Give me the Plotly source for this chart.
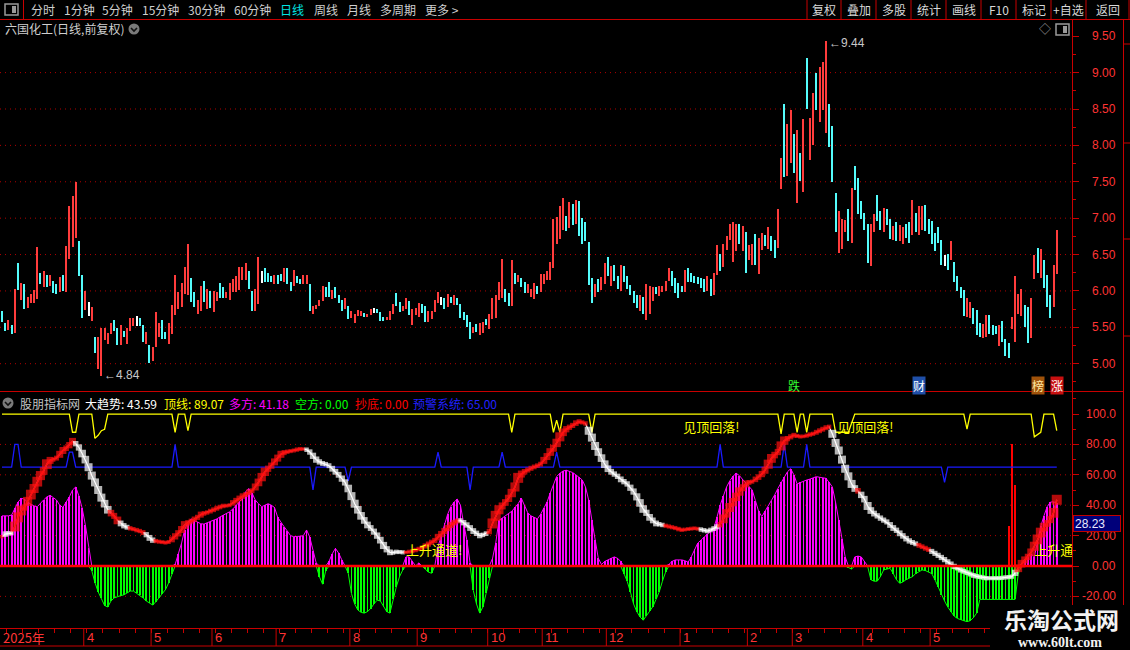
import plotly.graph_objects as go

W, H = 1130, 650
CJK = "Noto Sans CJK SC, sans-serif"
NUM = "Liberation Sans, Arial, sans-serif"

# ---------------- data ----------------
# daily bars (index = trading day), price in yuan
high = [
    5.73, 5.56, 5.61, 5.54, 6.04, 6.39, 6.12, 6.10, 5.93, 5.96,
    6.02, 6.61, 6.25, 6.28, 6.22, 6.23, 6.14, 6.10, 6.20, 6.23,
    6.63, 7.17, 7.31, 7.50, 6.69, 6.22, 6.01, 5.86, 5.79, 5.38,
    5.38, 5.50, 5.50, 5.43, 5.57, 5.61, 5.50, 5.54, 5.46, 5.50,
    5.64, 5.63, 5.66, 5.63, 5.54, 5.44, 5.26, 5.23, 5.72, 5.57,
    5.61, 5.44, 5.57, 5.82, 6.23, 5.99, 6.12, 6.34, 6.65, 6.19,
    5.99, 5.88, 6.07, 6.14, 6.04, 6.01, 6.01, 5.99, 6.12, 6.06,
    5.99, 6.12, 6.17, 6.21, 6.34, 6.33, 6.39, 6.28, 6.01, 6.04,
    6.47, 6.28, 6.32, 6.26, 6.21, 6.23, 6.22, 6.24, 6.32, 6.32,
    6.13, 6.29, 6.21, 6.17, 6.22, 6.22, 6.10, 5.80, 5.81, 5.88,
    6.07, 6.06, 6.13, 6.02, 6.06, 5.95, 5.88, 5.91, 5.80, 5.73,
    5.69, 5.74, 5.73, 5.70, 5.69, 5.76, 5.77, 5.76, 5.72, 5.65,
    5.65, 5.73, 5.83, 5.98, 5.85, 5.80, 5.91, 5.87, 5.76, 5.77,
    5.84, 5.83, 5.80, 5.73, 5.73, 5.88, 5.99, 5.92, 5.91, 5.96,
    5.92, 5.95, 5.91, 5.83, 5.72, 5.68, 5.58, 5.51, 5.55, 5.56,
    5.58, 5.62, 5.69, 5.91, 5.95, 6.13, 6.44, 6.03, 5.98, 6.43,
    6.25, 6.22, 6.18, 6.13, 6.10, 6.03, 6.11, 6.07, 6.24, 6.24,
    6.28, 6.40, 6.99, 7.02, 7.17, 7.28, 7.03, 7.23, 7.20, 7.25,
    7.24, 7.01, 6.96, 6.68, 6.18, 6.10, 6.17, 6.20, 6.39, 6.47,
    6.35, 6.36, 6.21, 6.37, 6.35, 6.21, 6.09, 6.00, 5.95, 5.95,
    5.92, 6.10, 6.07, 6.06, 6.06, 6.08, 6.08, 6.14, 6.32, 6.28,
    6.19, 6.11, 6.08, 6.30, 6.32, 6.26, 6.21, 6.20, 6.19, 6.17,
    6.21, 6.17, 6.25, 6.64, 6.52, 6.65, 6.76, 6.93, 6.95, 6.93,
    6.92, 6.90, 6.81, 6.64, 6.65, 6.79, 6.74, 6.80, 6.78, 6.88,
    6.76, 6.70, 7.13, 7.84, 8.58, 8.30, 8.50, 8.16, 8.22, 7.90,
    8.37, 9.21, 8.39, 8.73, 9.00, 9.09, 9.15, 9.44, 8.58, 8.28,
    7.35, 7.11, 7.00, 6.98, 7.13, 7.42, 7.72, 7.56, 7.24, 7.08,
    6.92, 6.93, 7.07, 7.32, 7.10, 7.15, 7.13, 7.00, 6.90, 6.95,
    6.91, 6.88, 6.93, 6.95, 7.26, 7.08, 7.18, 7.17, 7.19, 7.00,
    6.97, 6.80, 6.89, 6.70, 6.50, 6.52, 6.69, 6.40, 6.21, 6.06,
    6.02, 5.91, 5.86, 5.77, 5.74, 5.57, 5.55, 5.68, 5.68, 5.54,
    5.52, 5.54, 5.59, 5.34, 5.29, 5.65, 6.21, 5.96, 6.03, 5.81,
    5.79, 5.91, 6.50, 6.60, 6.58, 6.43, 6.23, 5.95, 6.37, 6.85,
]
low = [
    5.58, 5.46, 5.47, 5.42, 5.43, 6.02, 5.88, 5.76, 5.77, 5.84,
    5.84, 5.89, 6.10, 6.06, 6.06, 6.08, 5.98, 5.96, 5.99, 6.01,
    5.99, 6.45, 6.61, 6.73, 6.21, 5.63, 5.75, 5.66, 5.59, 5.16,
    4.93, 4.84, 5.33, 5.28, 5.41, 5.46, 5.26, 5.26, 5.37, 5.28,
    5.46, 5.53, 5.53, 5.53, 5.30, 5.28, 5.02, 5.05, 5.23, 5.37,
    5.35, 5.34, 5.28, 5.41, 5.68, 5.76, 5.79, 5.96, 5.95, 5.86,
    5.78, 5.69, 5.73, 5.85, 5.76, 5.77, 5.72, 5.87, 5.91, 5.91,
    5.91, 5.88, 5.99, 5.99, 6.02, 6.16, 6.16, 6.03, 5.73, 5.73,
    5.83, 6.11, 6.13, 6.13, 6.13, 6.10, 6.10, 6.14, 6.13, 6.10,
    6.00, 6.07, 6.11, 6.10, 6.10, 6.10, 5.73, 5.69, 5.76, 5.80,
    5.87, 5.92, 5.93, 5.89, 5.91, 5.84, 5.73, 5.76, 5.62, 5.63,
    5.56, 5.66, 5.66, 5.65, 5.65, 5.67, 5.70, 5.70, 5.59, 5.59,
    5.61, 5.61, 5.69, 5.80, 5.72, 5.73, 5.76, 5.67, 5.54, 5.67,
    5.65, 5.70, 5.58, 5.58, 5.62, 5.72, 5.84, 5.81, 5.76, 5.78,
    5.84, 5.82, 5.82, 5.63, 5.61, 5.51, 5.35, 5.43, 5.44, 5.40,
    5.43, 5.54, 5.48, 5.62, 5.63, 5.88, 5.91, 5.85, 5.80, 5.80,
    6.10, 6.13, 6.06, 5.98, 5.98, 5.93, 5.89, 5.96, 5.99, 6.10,
    6.16, 6.16, 6.32, 6.65, 6.72, 6.85, 6.83, 6.87, 6.91, 6.92,
    6.76, 6.65, 6.69, 6.09, 5.84, 5.92, 5.99, 6.02, 6.10, 6.21,
    6.07, 6.15, 6.03, 6.00, 6.13, 6.03, 5.95, 5.84, 5.77, 5.73,
    5.69, 5.61, 5.69, 5.87, 5.96, 5.94, 5.99, 6.00, 6.14, 6.08,
    5.98, 5.91, 5.99, 5.99, 6.13, 6.13, 6.11, 6.10, 6.05, 5.99,
    6.01, 5.94, 5.95, 6.23, 6.28, 6.33, 6.57, 6.70, 6.41, 6.56,
    6.65, 6.55, 6.26, 6.43, 6.36, 6.36, 6.24, 6.57, 6.62, 6.58,
    6.55, 6.46, 6.60, 7.41, 7.57, 7.59, 7.77, 7.63, 7.21, 7.52,
    7.36, 8.51, 7.80, 8.01, 8.50, 8.33, 8.50, 8.18, 7.99, 7.51,
    6.81, 6.53, 6.59, 6.81, 6.69, 6.67, 7.40, 7.06, 7.00, 6.85,
    6.39, 6.35, 6.81, 6.97, 6.84, 6.81, 6.91, 6.72, 6.70, 6.69,
    6.69, 6.65, 6.73, 6.66, 6.78, 6.81, 6.78, 6.84, 6.83, 6.79,
    6.65, 6.56, 6.67, 6.36, 6.35, 6.30, 6.43, 6.13, 6.00, 5.91,
    5.66, 5.65, 5.63, 5.55, 5.40, 5.37, 5.36, 5.37, 5.41, 5.40,
    5.41, 5.25, 5.30, 5.11, 5.09, 5.49, 5.31, 5.69, 5.66, 5.51,
    5.29, 5.36, 6.17, 6.26, 6.19, 6.05, 5.78, 5.63, 5.78, 6.24,
]
# u = closed up (red), d = closed down (cyan), e = unchanged (white)
bar_dir = (
    "ddudududuu" "uudududdud" "uuuuddueud" "uuuuuddudu" "uuedduduuu"
    "dduuuuuuud" "duududuudd" "uuuuuuuddu" "ueddduddud" "dudduuduuu"
    "uddudddudu" "uuuduueddd" "uuudduuduu" "udduuuuedu" "dudddddudu"
    "uduuuuuddu" "dudduuuduu" "uuuuuududu" "ddddduduud" "uddudddddu"
    "duuuduuuud" "dddudddddd" "uduuduuuuu" "duduuduudu" "dduuduudud"
    "uduuduuudd" "duuududddd" "duudduddud" "uudduduudd" "ddddeduddd"
    "duuddduudd" "duddduuuud" "duududdduu"
)

# 大趋势 line
trend = [
    19.3, 21, 21.5, 21.5, 26, 32, 36.5, 38.5, 42.5, 47,
    51, 55.5, 59.5, 62.5, 67, 69.5, 70, 71, 73.5, 76,
    77.5, 79.5, 82, 80.5, 78, 74, 70, 65, 59.5, 55,
    50, 45, 41, 37, 34.8, 33, 30, 28, 26.5, 25.5,
    24.8, 24.3, 23.6, 23, 22, 20.6, 18.5, 17, 16.4, 16,
    15.7, 15.4, 15.8, 17.5, 19.5, 21.5, 24, 27, 28.4, 29.5,
    30.8, 32, 33.8, 34.6, 35.2, 36.1, 37, 38, 38.8, 39.5,
    39.7, 40, 41.5, 43, 44.5, 46, 47, 48.5, 49.5, 52,
    55, 58.5, 62, 64, 66, 68.5, 71, 73.5, 74.6, 75.2,
    75.6, 76, 76.6, 77, 77, 76.5, 75, 72.5, 70, 68.5,
    67.5, 67, 66, 64, 62, 60, 57.5, 55, 51, 46,
    41, 37, 33, 30, 27, 25, 22.6, 20, 17, 13.5,
    11, 9, 8.8, 9.3, 9.2, 9, 9, 9.4, 9.8, 10.5,
    11.2, 12, 13.2, 14.4, 15.6, 16.8, 19, 21, 23, 25,
    27, 28.5, 29.6, 30, 28.5, 27, 25, 23, 21.5, 20,
    20.5, 21.3, 22.6, 28, 33, 37, 39.5, 41.8, 44.5, 48,
    52, 58, 60.5, 62, 63.2, 64.3, 65.2, 66, 67, 69.5,
    72, 75, 77.5, 81, 85, 88, 90, 91.3, 92.5, 94,
    95, 94.5, 93.8, 89, 84.5, 79, 75, 71, 67, 64,
    62, 60.5, 59, 57, 55.5, 54, 51.5, 49, 45.5, 41.5,
    37.5, 35, 32, 30, 28, 27.5, 27, 26.5, 26, 25.5,
    25, 24.3, 23.8, 24, 24.3, 24.6, 24.8, 24.5, 24, 23.5,
    23, 23.7, 24.6, 25.8, 27.2, 31, 34.6, 38.5, 42, 45.5,
    49, 51.5, 54, 55, 55.5, 57, 58.5, 60.5, 63, 67,
    70.8, 73, 75, 79, 82.5, 83.8, 85, 86, 85.6, 85.2,
    85.3, 85.8, 86.5, 87, 88, 89, 90, 91, 91.6, 87,
    81, 76, 70, 64, 59, 54, 51, 49.5, 46.8, 44,
    39.5, 36.5, 34.5, 33, 31.5, 30.2, 29, 27, 25, 23.5,
    21.5, 19.8, 18, 16.5, 15.5, 14.6, 13.6, 12.7, 11.7, 10.8,
    9.6, 8.3, 7, 5.6, 4.2, 2.7, 1.2, -0.3, -1.3, -2.6,
    -3.5, -4.4, -5.3, -6.2, -6.8, -7.2, -7.6, -8, -8, -8,
    -8, -8, -7.8, -7.5, -7.3, -7, -4.5, -1.5, 1.5, 4,
    6, 9, 13, 17.5, 22, 25.6, 28, 30.5, 35, 43.59,
]
# bar ranges where the trend line is painted red
trend_red_spans = [(0, 0), (4, 22), (34, 36), (40, 44), (48, 94), (126, 142),
                   (152, 182), (207, 217), (224, 258), (267, 267), (286, 289), (317, 329)]

# 多方 (>0) / 空方 (<0) histogram
osc = [
    33, 33, 33, 33.5, 38, 42, 44.5, 44, 42, 40.5,
    39.5, 39, 41.5, 43.5, 45.5, 46.5, 45, 43.4, 40, 38.5,
    42, 45.5, 50, 52, 46, 38, 27, 12, -3, -11,
    -17, -21, -26, -27, -23, -21, -20, -19.5, -19, -18,
    -16.5, -16.5, -18, -19, -21, -23, -24.5, -25.7, -23.5, -21,
    -18.5, -15.5, -11, -5, 1, 8, 15, 24, 29, 31,
    30, 28.7, 27.8, 27.6, 28.4, 29, 30, 31, 32.3, 33.5,
    34.6, 35.7, 37.5, 40, 42, 44.5, 49, 51, 48, 43.4,
    41, 39, 40, 41, 40, 38.5, 32, 28.5, 25.8, 23,
    20, 19.3, 19.3, 19.6, 20, 23.7, 19, 10, 2, -7,
    -12, -3, 3, 8, 11.6, 8.5, 4, 0, -4.8, -18,
    -25, -29, -30.5, -31, -30, -28, -25, -22.5, -23, -27,
    -30, -31, -22, -13.6, -7, -2.6, 6, 6, 3, 0,
    2, 0, -2, -4, -4.8, 0, 12.7, 20, 28, 34,
    39, 42, 44, 40, 28, 17, 2, -16, -25, -31,
    -27, -18, -8, 5, 15, 30, 31.5, 32.5, 34, 36,
    38.5, 41, 44.5, 40, 35, 33, 32, 31, 34, 38,
    42, 48, 53, 58.8, 61, 62.5, 63, 62.5, 61.5, 60,
    58.5, 56.6, 52, 43.4, 30, 17, 5, 1, 3, 4,
    5, 6, 5, 3, -5, -10, -17, -25, -30, -33.5,
    -35.7, -33, -29.5, -26.8, -22, -17, -10, -4, 1, 3,
    4, 4, 4, 3.5, 2.5, 6, 11, 15, 17, 19,
    21, 23, 24.8, 32, 40, 46, 52, 56, 59, 61,
    59.5, 57, 54.5, 52, 50, 43, 36, 32.5, 36, 39,
    43, 46.7, 51, 55, 58.5, 62, 64, 60, 54, 55,
    56, 56.6, 57.2, 58, 58.8, 58.4, 58, 57.7, 55, 52,
    42, 30, 18, 6, -1, -2, 6, 6.5, 6, 3,
    0, -9, -10, -10, -7, -2.6, -2, -1.5, -5, -9,
    -11.4, -10.5, -9, -8, -7, -5, -3.5, -2.6, -3, -4,
    -5, -9, -14, -19, -23, -27, -30, -33, -34.5, -35.5,
    -36, -36.6, -36, -34, -31, -22, -22, -22, -22, -22,
    -22, -22, -22, -22, -22, -22, -22, -5, 1, 4,
    7, 8, 6, 16, 26, 33, 39, 42, 42.3, 41.18,
]

# 顶线 (yellow) break points
top_x = [0, 21, 22, 23, 24, 28, 29, 30, 31, 32, 33, 53, 54, 55, 57, 58, 59,
         158, 159, 160, 171, 172, 173, 174, 175, 183, 184, 185, 242, 243, 244,
         247, 248, 249, 250, 251, 252, 259, 260, 264, 266, 300, 301, 302,
         321, 322, 324, 325, 328, 329]
top_y = [100, 100, 88, 88, 100, 100, 84, 86, 89, 90, 100, 100, 88, 100, 100, 89, 100,
         100, 88, 100, 100, 88, 96, 88, 100, 100, 88, 100, 100, 87, 100,
         100, 88, 100, 100, 88, 100, 100, 88, 88, 100, 100, 90, 100,
         100, 85, 88, 100, 100, 89.07]

# 预警系统 (blue) break points
warn_x = [0, 3, 4, 5, 6, 20, 21, 22, 23, 53, 54, 55, 96, 97, 98, 107, 108, 109,
          135, 136, 137, 145, 146, 147, 155, 156, 157, 172, 173, 174, 223, 224, 225,
          243, 244, 245, 250, 251, 252, 293, 294, 295, 329]
warn_y = [65, 65, 80, 80, 65, 65, 75, 75, 65, 65, 80, 65, 65, 50, 65, 65, 56, 65,
          65, 75, 65, 65, 50, 65, 65, 75, 65, 65, 75, 65, 65, 80, 65,
          65, 80, 65, 65, 80, 65, 65, 55, 65, 65]

# 抄底 spike
bottom_x = [314, 315, 316]
bottom_y = [26, 80, 53]

# signal captions: (bar, value, text)
signal_text = [(126, 9.2, "上升通道!"), (322, 9.2, "上升通道!"),
               (212.5, 90, "见顶回落!"), (260.5, 90, "见顶回落!")]

# date axis
month_start = [0, 26, 47, 66, 86, 109, 130, 152, 169, 189, 212, 233, 247, 269, 290]
month_label = ["2025年", "4", "5", "6", "7", "8", "9", "10", "11", "12", "1", "2", "3", "4", "5"]

price_ticks = [5.0, 5.5, 6.0, 6.5, 7.0, 7.5, 8.0, 8.5, 9.0, 9.5]
ind_ticks = [-20, 0, 20, 40, 60, 80, 100]

# event tags at the bottom of the price panel: (bar, text, font colour, background)
events = [(247, "跌", "#33ff33", "rgba(0,0,0,0)"), (286, "财", "#ffffff", "#1f4fa8"),
          (323, "榜", "#ffe9a0", "#a0520a"), (329, "涨", "#ffffff", "#c81010")]

# ---------------- figure ----------------
N = len(high)
bars = list(range(N))
XR = [-0.624, 333.75]
XD = [0, 1072 / W]
RED = "#c80000"
TICKRED = "#ff3434"

fig = go.Figure()

cmap = {"u": "#ff3c3c", "d": "#54fcfc", "e": "#ffffff"}
fig.add_trace(go.Bar(
    x=bars, y=[h - l for h, l in zip(high, low)], base=low, width=0.33,
    marker=dict(color=[cmap[c] for c in bar_dir], line=dict(width=0)),
    xaxis="x", yaxis="y", hoverinfo="skip"))

pos = [v if v > 0 else 0 for v in osc]
neg = [v if v < 0 else 0 for v in osc]
fig.add_trace(go.Bar(x=bars, y=pos, width=0.26, marker=dict(color="#ff00ff", line=dict(width=0)),
                     xaxis="x2", yaxis="y2", hoverinfo="skip"))
fig.add_trace(go.Bar(x=bars, y=neg, width=0.26, marker=dict(color="#00ff00", line=dict(width=0)),
                     xaxis="x2", yaxis="y2", hoverinfo="skip"))
fig.add_trace(go.Scatter(x=bars, y=pos, mode="lines", line=dict(color="#ff00ff", width=1),
                         xaxis="x2", yaxis="y2", hoverinfo="skip"))
fig.add_trace(go.Scatter(x=bars, y=neg, mode="lines", line=dict(color="#00ff00", width=1),
                         xaxis="x2", yaxis="y2", hoverinfo="skip"))

fig.add_trace(go.Bar(x=bottom_x, y=bottom_y, width=0.7, marker=dict(color="#ff0000", line=dict(width=0)),
                     xaxis="x2", yaxis="y2", hoverinfo="skip"))

fig.add_trace(go.Scatter(x=top_x, y=top_y, mode="lines", line=dict(color="#ffff00", width=1.3),
                         xaxis="x2", yaxis="y2", hoverinfo="skip"))
fig.add_trace(go.Scatter(x=warn_x, y=warn_y, mode="lines", line=dict(color="#1a1aff", width=1.3),
                         xaxis="x2", yaxis="y2", hoverinfo="skip"))

# trend line: thin line plus square blocks, red on rising spans, white elsewhere
is_red = [False] * N
for a, b in trend_red_spans:
    for i in range(a, b + 1):
        is_red[i] = True
red_line = [trend[i] if is_red[i] or (i + 1 < N and is_red[i + 1]) else None for i in bars]
fig.add_trace(go.Scatter(x=bars, y=trend, mode="lines", line=dict(color="#ffffff", width=1.2),
                         xaxis="x2", yaxis="y2", hoverinfo="skip"))
fig.add_trace(go.Scatter(x=bars, y=red_line, mode="lines", line=dict(color="#ff1010", width=1.6),
                         xaxis="x2", yaxis="y2", hoverinfo="skip"))
sizes, cols = [], []
for i in bars:
    d = abs(trend[i] - trend[i - 1]) if i else 0
    if is_red[i]:
        sizes.append(min(3.5 + 1.4 * d, 10))
        cols.append("#ff1010")
    else:
        sizes.append(min(4 + 0.9 * d, 8))
        cols.append("#ffffff")
fig.add_trace(go.Scatter(x=bars, y=trend, mode="markers",
                         marker=dict(symbol="square", size=sizes, color=cols, line=dict(width=0)),
                         xaxis="x2", yaxis="y2", hoverinfo="skip"))

for bx, by, s in signal_text:
    fig.add_trace(go.Scatter(x=[bx], y=[by], mode="text", text=[s], textposition="middle right",
                             textfont=dict(color="#ffff00", size=13, family=CJK), cliponaxis=True,
                             xaxis="x2", yaxis="y2", hoverinfo="skip"))

# ---------------- decorations ----------------
shapes, ann = [], []


def px_line(x0, y0, x1, y1, color=RED, width=1, dash=None):
    shapes.append(dict(type="line", xref="paper", yref="paper", x0=x0 / W, y0=1 - y0 / H,
                       x1=x1 / W, y1=1 - y1 / H, line=dict(color=color, width=width, dash=dash)))


def px_rect(x0, y0, x1, y1, fill=None, line_color=None, width=1):
    shapes.append(dict(type="rect", xref="paper", yref="paper", x0=x0 / W, y0=1 - y0 / H,
                       x1=x1 / W, y1=1 - y1 / H, fillcolor=fill,
                       line=dict(color=line_color or "rgba(0,0,0,0)", width=width if line_color else 0)))


def px_text(x, y, s, color, size=12, anchor="left", family=CJK, **kw):
    ann.append(dict(xref="paper", yref="paper", x=x / W, y=1 - y / H, text=s, showarrow=False,
                    xanchor=anchor, yanchor="middle", font=dict(color=color, size=size, family=family), **kw))


def toggle_icon(x, y):
    px_rect(x, y, x + 13, y + 11, line_color="#9a9a9a", width=1.5)
    px_rect(x + 7, y + 2, x + 11, y + 9, fill="#9a9a9a")


def chevron_icon(cx, cy):
    shapes.append(dict(type="circle", xref="paper", yref="paper", x0=(cx - 5.5) / W, x1=(cx + 5.5) / W,
                       y0=1 - (cy + 5.5) / H, y1=1 - (cy - 5.5) / H, fillcolor="#7a7a7a", line=dict(width=0)))
    pts = [(cx - 3, cy - 1), (cx, cy + 2), (cx + 3, cy - 1)]
    path = "M " + " L ".join(f"{px / W:.5f},{1 - py / H:.5f}" for px, py in pts)
    shapes.append(dict(type="path", xref="paper", yref="paper", path=path,
                       line=dict(color="#111111", width=1.6)))


# toolbar
px_line(0, 19.5, W, 19.5)
px_line(23.5, 0, 23.5, 19.5)
toggle_icon(5, 4)
for x, s in zip([29, 62, 100, 140, 186, 232, 278, 312, 345, 378, 423],
                ["分时", "1分钟", "5分钟", "15分钟", "30分钟", "60分钟", "日线", "周线", "月线", "多周期", "更多 >"]):
    px_text(x, 10, s, "#00e4e4" if s == "日线" else "#cfcfcf", size=12)
seps = [807, 841, 876, 911, 946, 981, 1016, 1051, 1086, 1129]
for x in seps:
    px_line(x, 0, x, 19.5)
for i, s in enumerate(["复权", "叠加", "多股", "统计", "画线", "F10", "标记", "+自选", "返回"]):
    px_text((seps[i] + seps[i + 1]) / 2, 10, s, "#d8d8d8", size=12, anchor="center")

# price panel title and icons
px_text(3, 29, "六国化工(日线,前复权)", "#cfcfcf", size=12)
chevron_icon(134, 29)
px_text(1045, 29, "◇", "#9a9a9a", size=12, anchor="center")
toggle_icon(1056, 24)

# panel frames
px_line(0, 391.5, 1123, 391.5)
px_line(1123.5, 19.5, 1123.5, 605)
for y in [44, 143, 239, 336]:
    px_line(1123.5, y, W, y)
px_line(0, 646, 990, 646)

# dotted grid
for p in price_ticks[:-1]:
    shapes.append(dict(type="line", xref="paper", yref="y", x0=0, x1=XD[1], y0=p, y1=p, layer="below",
                       line=dict(color="#b00000", width=1, dash="1px,4px")))
for v in [80, 60, 40, 20, -20]:
    shapes.append(dict(type="line", xref="paper", yref="y2", x0=0, x1=XD[1], y0=v, y1=v, layer="below",
                       line=dict(color="#b00000", width=1, dash="1px,4px")))
shapes.append(dict(type="line", xref="paper", yref="y2", x0=0, x1=XD[1], y0=0, y1=0,
                   line=dict(color="#ff0000", width=2.5)))

# right axis labels (right aligned like the terminal)
for p in price_ticks:
    ann.append(dict(xref="paper", yref="y", x=1118 / W, y=p, text=f"{p:.2f}", showarrow=False,
                    xanchor="right", yanchor="middle", font=dict(color=TICKRED, size=12, family=NUM)))
for v in ind_ticks:
    t = "100.0" if v == 100 else f"{v:.2f}"
    ann.append(dict(xref="paper", yref="y2", x=1118 / W, y=v, text=t, showarrow=False,
                    xanchor="right", yanchor="middle", font=dict(color=TICKRED, size=12, family=NUM)))
ann.append(dict(xref="paper", yref="y2", x=1073 / W, y=28.23, text="28.23", showarrow=False,
                xanchor="left", yanchor="middle", align="left", width=44, height=13,
                bgcolor="#00007a", bordercolor="#c00000", borderwidth=1, borderpad=1,
                font=dict(color="#e8e8ff", size=12, family=NUM)))

# high / low marks
ann.append(dict(xref="x", yref="y", x=31, y=4.84, text="←4.84", showarrow=False, xanchor="left",
                yanchor="middle", xshift=1, font=dict(color="#c8c8c8", size=12, family=NUM)))
ann.append(dict(xref="x", yref="y", x=257, y=9.44, text="←9.44", showarrow=False, xanchor="left",
                yanchor="middle", xshift=1, yshift=-2, font=dict(color="#c8c8c8", size=12, family=NUM)))

for bx, s, fc, bg in events:
    ann.append(dict(xref="x", yref="paper", x=bx, y=1 - 385 / H, text=s, showarrow=False,
                    xanchor="center", yanchor="middle", bgcolor=bg, borderpad=0,
                    font=dict(color=fc, size=12, family=CJK)))

# indicator legend row
chevron_icon(8, 403)
legend_row = [
    (18, "股朋指标网", "#c4c4c4"),
    (83, f"大趋势: {trend[-1]:.2f}", "#ffffff"),
    (162, f"顶线: {top_y[-1]:.2f}", "#ffff00"),
    (227, f"多方: {pos[-1]:.2f}", "#ff00ff"),
    (293, f"空方: {abs(neg[-1]):.2f}", "#00ff00"),
    (353, "抄底: 0.00", "#ff0000"),
    (411, f"预警系统: {warn_y[-1]:.2f}", "#2020ff"),
]
for x, s, c in legend_row:
    px_text(x, 403, s, c, size=12)

# date axis: month separators and labels
for i, (m, lab) in enumerate(zip(month_start, month_label)):
    xm = m - 0.5 if i else XR[0]
    if i:
        shapes.append(dict(type="line", xref="x", yref="paper", x0=xm, x1=xm, y0=1 - 646 / H, y1=1 - 628 / H,
                           line=dict(color=RED, width=1)))
    ann.append(dict(xref="x", yref="paper", x=xm, y=1 - 637.5 / H, text=lab, showarrow=False,
                    xanchor="left", yanchor="middle", xshift=1,
                    font=dict(color=TICKRED, size=13, family=NUM if i else CJK)))

# watermark
px_rect(990, 605, W, H, fill="#000000")
px_text(1061, 619, "<b>乐淘公式网</b>", "#f2f2f2", size=23, anchor="center")
px_text(1060, 642, "<b>www.60lt.com</b>", "#f2f2f2", size=14, anchor="center",
        family="Liberation Serif, DejaVu Serif, serif")

axis_common = dict(showgrid=False, zeroline=False, fixedrange=True)
fig.update_layout(
    width=W, height=H, margin=dict(l=0, r=0, t=0, b=0),
    paper_bgcolor="#000000", plot_bgcolor="#000000",
    showlegend=False, barmode="overlay", bargap=0,
    xaxis=dict(domain=XD, range=XR, anchor="y", showticklabels=False, ticks="", **axis_common),
    yaxis=dict(domain=[1 - 391.5 / H, 1 - 19.5 / H], range=[4.618, 9.73], anchor="x", side="right",
               tick0=5, dtick=0.5, ticks="outside", ticklen=6, tickcolor=RED, showticklabels=False,
               showline=True, linecolor=RED, linewidth=1.2,
               minor=dict(dtick=0.25, ticks="outside", ticklen=3, tickcolor=RED), **axis_common),
    xaxis2=dict(domain=XD, range=XR, anchor="y2", matches="x", showticklabels=False,
                tick0=1.5, dtick=5, ticks="outside", ticklen=4, tickcolor=RED,
                showline=True, linecolor=RED, linewidth=1.2, **axis_common),
    yaxis2=dict(domain=[1 - 628 / H, 1 - 392 / H], range=[-40.8, 114.5], anchor="x2", side="right",
                tick0=0, dtick=20, ticks="outside", ticklen=6, tickcolor=RED, showticklabels=False,
                showline=True, linecolor=RED, linewidth=1.2,
                minor=dict(dtick=10, ticks="outside", ticklen=3, tickcolor=RED), **axis_common),
    shapes=shapes, annotations=ann,
)

# the page's default body margin would shift the chart by 8px
fig.write_html("out.html", config={"displayModeBar": False},
               post_script="document.body.style.margin='0';document.body.style.overflow='hidden';")
